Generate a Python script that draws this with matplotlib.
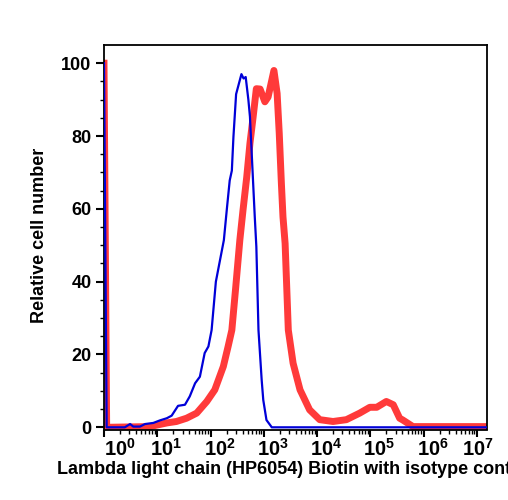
import numpy as np
import matplotlib
matplotlib.use("Agg")
import matplotlib.pyplot as plt
from matplotlib.ticker import FixedLocator, NullFormatter, LogLocator
import matplotlib.transforms as mtransforms

plt.rcParams['font.family'] = ['Liberation Sans', 'DejaVu Sans']
plt.rcParams['font.weight'] = 'bold'
plt.rcParams['mathtext.fontset'] = 'custom'
plt.rcParams['mathtext.rm'] = 'Liberation Sans:bold'
plt.rcParams['mathtext.it'] = 'Liberation Sans:bold'
plt.rcParams['mathtext.bf'] = 'Liberation Sans:bold'

# isotype control (blue), x as log10 of intensity
blue_log = [0.0, 0.05, 0.39, 0.49, 0.55, 0.675, 0.77, 0.925, 1.05, 1.18, 1.27, 1.39, 1.52,
            1.61, 1.71, 1.80, 1.89, 1.96, 2.02, 2.10, 2.25, 2.31, 2.36, 2.40, 2.43, 2.48,
            2.58, 2.62, 2.66, 2.71, 2.74, 2.77, 2.80, 2.83, 2.86, 2.90, 2.96, 2.99, 3.05,
            3.15, 7.19]
blue_y = [100, 0, 0, 0.9, 0.2, 0.2, 0.9, 1.2, 1.9, 2.5, 3.2, 5.9, 6.2,
          8.5, 12.1, 13.9, 20.4, 22.2, 26.7, 40, 51.4, 60.5, 67.8, 70.5, 79.8, 91.5,
          97, 95.8, 96.2, 90, 85.3, 76.1, 67, 57.9, 49.6, 26.7, 13, 7.5, 2,
          0, 0]

# Lambda light chain (red)
red_log = [0.0, 0.05, 0.86, 1.18, 1.36, 1.55, 1.74, 1.93, 2.08, 2.24, 2.33, 2.40, 2.47,
           2.55, 2.61, 2.68, 2.74, 2.80, 2.86, 2.93, 3.02, 3.08, 3.19, 3.25, 3.29, 3.33,
           3.36, 3.40, 3.46, 3.55, 3.68, 3.86, 4.05, 4.30, 4.55, 4.80, 4.99, 5.12, 5.30,
           5.43, 5.55, 5.61, 5.80, 7.19]
red_y = [100, 0, 0.2, 1.2, 1.6, 2.5, 3.9, 7.1, 10.3, 16.7, 22.2, 26.7, 38,
         51.4, 59.7, 68.8, 78, 85.3, 93, 92.9, 89.4, 90.7, 98, 91.7, 80.7, 67,
         57.8, 50.5, 26.7, 17.6, 10.3, 4.8, 2.1, 1.6, 2.1, 3.9, 5.5, 5.5, 7.1,
         6.2, 2.5, 2.0, 0.2, 0.2]

decades = [0, 1, 2, 3, 4, 5, 6, 7]
y_ticks = [0, 20, 40, 60, 80, 100]

fig = plt.figure(figsize=(5.08, 5.0), dpi=100)
ax = fig.add_axes([104 / 508, 1 - 429.5 / 500, 383 / 508, 384.5 / 500])

ax.plot(10 ** np.array(red_log), red_y, color='#ff3a3a', lw=5, solid_joinstyle='round', zorder=2)
ax.plot(10 ** np.array(blue_log), blue_y, color='#0000d8', lw=1.6, zorder=3)

ax.set_xscale('log')
ax.set_xlim(1, 10 ** 7.19)
ax.set_ylim(-0.6, 105)

ax.xaxis.set_major_locator(FixedLocator([10.0 ** d for d in decades]))
ax.xaxis.set_minor_locator(LogLocator(base=10, subs=np.arange(2, 10), numticks=20))
ax.xaxis.set_minor_formatter(NullFormatter())
ax.set_xticklabels([r'$10^{%d}$' % d for d in decades])

ax.set_yticks(y_ticks)
ax.set_yticks(np.arange(0, 101, 5), minor=True)

ax.tick_params(axis='both', which='major', direction='out', length=5, width=1.5,
               labelsize=13, pad=2, color='black')
ax.tick_params(axis='x', which='major', labelsize=14.5, pad=1)
ax.tick_params(axis='both', which='minor', direction='out', length=3, width=1.0)
ax.tick_params(axis='y', which='major', length=6, pad=3)

# shift x tick labels like the original (first nudged right, last pulled in)
shifts = [16, 9, 9, 9, 9, 9, 9, 1]
for lab, dx in zip(ax.get_xticklabels(), shifts):
    lab.set_transform(lab.get_transform() + mtransforms.ScaledTranslation(dx / 100, 0, fig.dpi_scale_trans))

for s in ax.spines.values():
    s.set_linewidth(1.3)

fig.text(57 / 508, 1 - 470 / 500, 'Lambda light chain (HP6054) Biotin with isotype control',
         ha='left', va='center', fontsize=13, fontweight='bold')
fig.text(40 / 508, 1 - 235 / 500, 'Relative cell number', rotation=90,
         ha='center', va='center', fontsize=13, fontweight='bold')

fig.savefig('out.png', dpi=100)
